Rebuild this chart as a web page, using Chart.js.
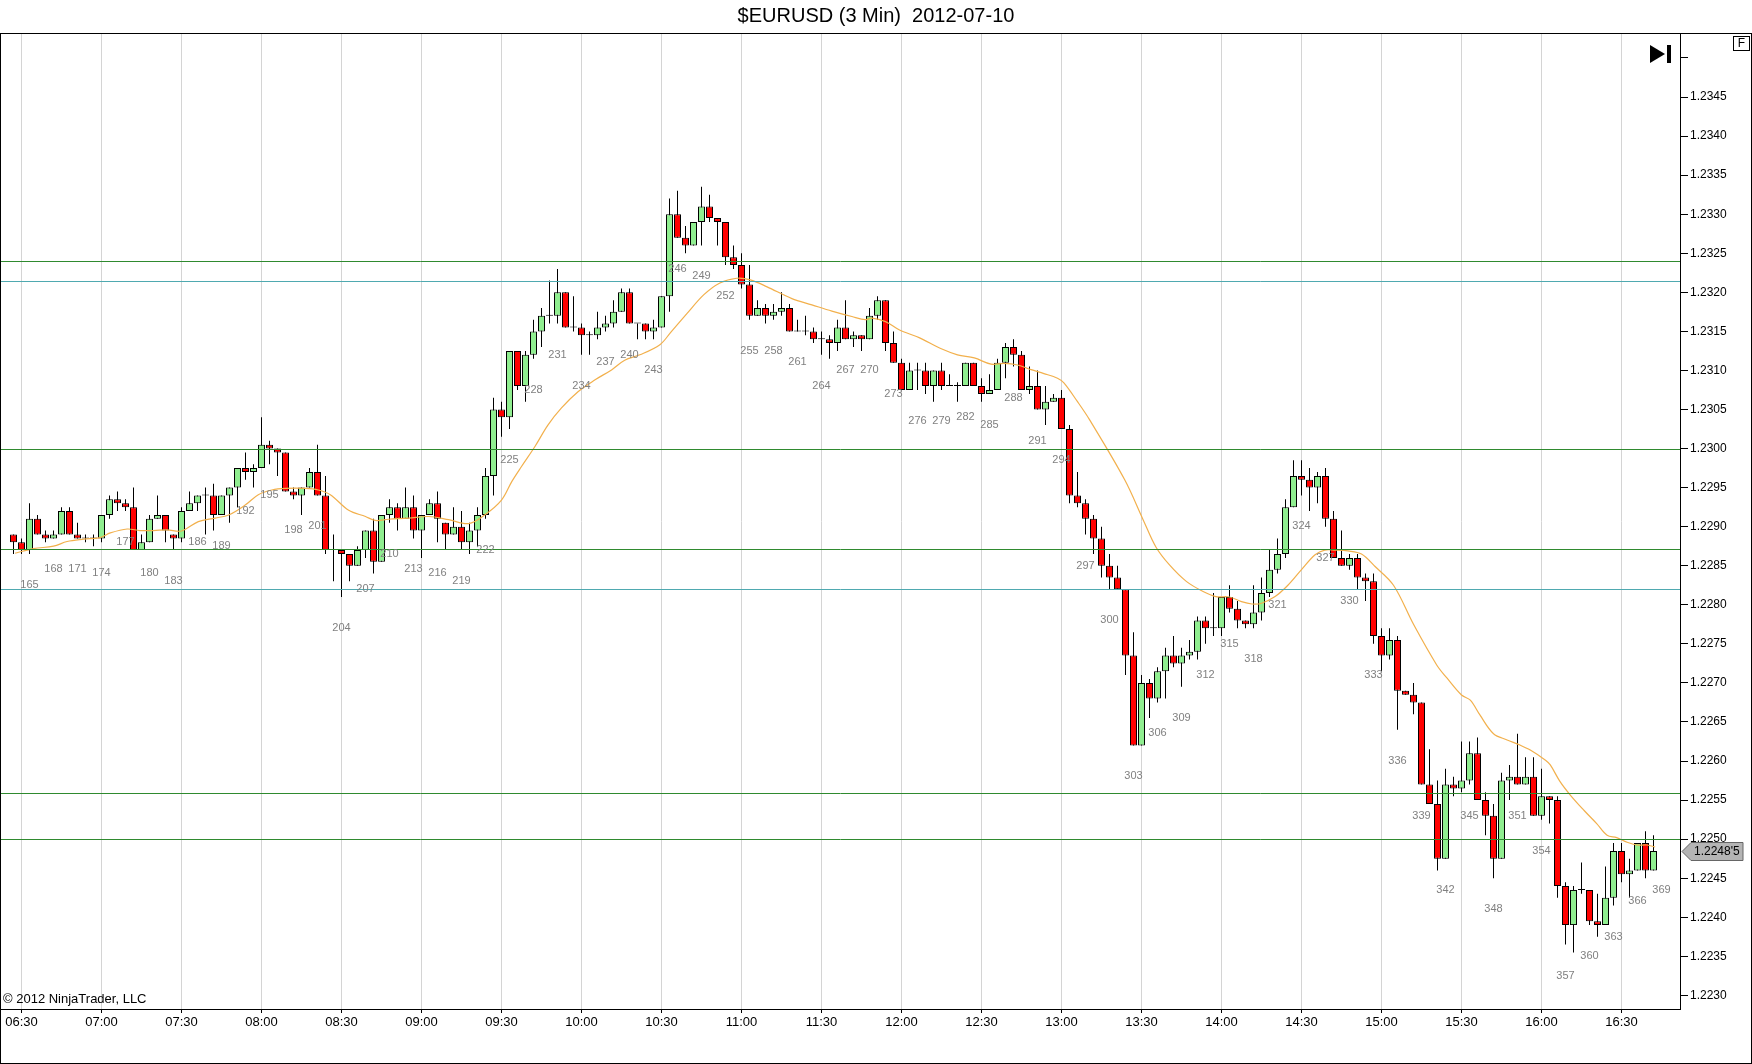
<!DOCTYPE html>
<html><head><meta charset="utf-8">
<script src="https://cdn.jsdelivr.net/npm/chart.js@4.4.1/dist/chart.umd.min.js"></script>
<style>html,body{margin:0;padding:0;background:#fff;}#wrap{width:1752px;height:1064px;}</style>
</head><body><div id="wrap"><canvas id="c" width="1752" height="1064"></canvas></div>
<script>
const title = '$EURUSD (3 Min)  2012-07-10';
const copyright = '\u00A9 2012 NinjaTrader, LLC';

const bars = [163,164,165,166,167,168,169,170,171,172,173,174,175,176,177,178,179,180,181,182,183,184,185,186,187,188,189,190,191,192,193,194,195,196,197,198,199,200,201,202,203,204,205,206,207,208,209,210,211,212,213,214,215,216,217,218,219,220,221,222,223,224,225,226,227,228,229,230,231,232,233,234,235,236,237,238,239,240,241,242,243,244,245,246,247,248,249,250,251,252,253,254,255,256,257,258,259,260,261,262,263,264,265,266,267,268,269,270,271,272,273,274,275,276,277,278,279,280,281,282,283,284,285,286,287,288,289,290,291,292,293,294,295,296,297,298,299,300,301,302,303,304,305,306,307,308,309,310,311,312,313,314,315,316,317,318,319,320,321,322,323,324,325,326,327,328,329,330,331,332,333,334,335,336,337,338,339,340,341,342,343,344,345,346,347,348,349,350,351,352,353,354,355,356,357,358,359,360,361,362,363,364,365,366,367,368];

const opens = [
1.22890,1.22880,1.22870,1.22910,1.22890,1.22885,1.22890,1.22920,1.22890,1.22885,
1.22885,1.22885,1.22915,1.22935,1.22930,1.22925,1.22870,1.22880,1.22910,1.22915,
1.22890,1.22885,1.22920,1.22930,1.22940,1.22940,1.22915,1.22940,1.22950,1.22975,
1.22970,1.22975,1.23005,1.23000,1.22995,1.22945,1.22940,1.22950,1.22970,1.22940,
1.22870,1.22870,1.22865,1.22850,1.22870,1.22895,1.22855,1.22915,1.22925,1.22910,
1.22925,1.22895,1.22915,1.22930,1.22905,1.22890,1.22900,1.22880,1.22895,1.22915,
1.22965,1.23050,1.23040,1.23125,1.23080,1.23120,1.23150,1.23170,1.23170,1.23200,
1.23155,1.23155,1.23145,1.23145,1.23155,1.23160,1.23175,1.23200,1.23160,1.23160,
1.23150,1.23155,1.23195,1.23300,1.23270,1.23260,1.23290,1.23310,1.23295,1.23290,
1.23245,1.23235,1.23210,1.23170,1.23180,1.23170,1.23175,1.23180,1.23150,1.23150,
1.23150,1.23140,1.23140,1.23135,1.23155,1.23140,1.23145,1.23140,1.23170,1.23190,
1.23135,1.23110,1.23075,1.23100,1.23100,1.23080,1.23100,1.23080,1.23080,1.23080,
1.23110,1.23080,1.23070,1.23075,1.23110,1.23130,1.23120,1.23075,1.23080,1.23050,
1.23060,1.23065,1.23025,1.22940,1.22930,1.22910,1.22885,1.22850,1.22835,1.22820,
1.22735,1.22620,1.22700,1.22680,1.22715,1.22735,1.22725,1.22735,1.22740,1.22780,
1.22770,1.22770,1.22810,1.22795,1.22780,1.22775,1.22790,1.22815,1.22845,1.22865,
1.22925,1.22965,1.22960,1.22950,1.22965,1.22910,1.22860,1.22850,1.22860,1.22835,
1.22830,1.22760,1.22735,1.22755,1.22690,1.22685,1.22675,1.22570,1.22545,1.22475,
1.22570,1.22565,1.22575,1.22610,1.22550,1.22530,1.22475,1.22575,1.22580,1.22570,
1.22580,1.22530,1.22555,1.22550,1.22440,1.22390,1.22435,1.22435,1.22395,1.22390,
1.22425,1.22485,1.22455,1.22460,1.22495,1.22460];

const highs = [
1.22890,1.22885,1.22930,1.22915,1.22895,1.22895,1.22925,1.22925,1.22905,1.22890,
1.22890,1.22915,1.22940,1.22945,1.22935,1.22950,1.22890,1.22915,1.22940,1.22915,
1.22890,1.22925,1.22945,1.22940,1.22950,1.22955,1.22940,1.22950,1.22975,1.22995,
1.22980,1.23040,1.23010,1.23000,1.22995,1.22950,1.22950,1.22975,1.23005,1.22965,
1.22890,1.22870,1.22865,1.22875,1.22895,1.22910,1.22915,1.22935,1.22930,1.22950,
1.22940,1.22915,1.22935,1.22945,1.22905,1.22925,1.22920,1.22905,1.22925,1.22975,
1.23065,1.23060,1.23125,1.23125,1.23125,1.23165,1.23180,1.23215,1.23230,1.23200,
1.23195,1.23160,1.23150,1.23175,1.23170,1.23190,1.23205,1.23205,1.23160,1.23160,
1.23165,1.23195,1.23320,1.23330,1.23285,1.23290,1.23335,1.23325,1.23295,1.23290,
1.23260,1.23250,1.23235,1.23190,1.23185,1.23185,1.23200,1.23185,1.23165,1.23170,
1.23155,1.23150,1.23145,1.23165,1.23190,1.23150,1.23145,1.23180,1.23195,1.23190,
1.23150,1.23115,1.23110,1.23110,1.23110,1.23100,1.23110,1.23095,1.23085,1.23110,
1.23110,1.23090,1.23095,1.23115,1.23135,1.23140,1.23125,1.23105,1.23100,1.23080,
1.23070,1.23075,1.23030,1.22970,1.22935,1.22915,1.22900,1.22865,1.22850,1.22820,
1.22765,1.22710,1.22705,1.22720,1.22745,1.22760,1.22745,1.22755,1.22785,1.22785,
1.22815,1.22810,1.22825,1.22805,1.22780,1.22825,1.22835,1.22870,1.22885,1.22935,
1.22985,1.22985,1.22975,1.22970,1.22975,1.22920,1.22895,1.22865,1.22865,1.22840,
1.22840,1.22770,1.22770,1.22760,1.22690,1.22700,1.22675,1.22615,1.22575,1.22590,
1.22580,1.22625,1.22625,1.22630,1.22560,1.22545,1.22585,1.22595,1.22635,1.22605,
1.22605,1.22590,1.22555,1.22555,1.22445,1.22440,1.22470,1.22435,1.22430,1.22465,
1.22495,1.22495,1.22475,1.22495,1.22510,1.22505];

const lows = [
1.22865,1.22865,1.22865,1.22890,1.22880,1.22885,1.22890,1.22890,1.22885,1.22880,
1.22875,1.22880,1.22910,1.22920,1.22920,1.22870,1.22870,1.22880,1.22910,1.22880,
1.22870,1.22880,1.22920,1.22920,1.22890,1.22895,1.22915,1.22905,1.22925,1.22960,
1.22950,1.22975,1.22980,1.22965,1.22945,1.22935,1.22915,1.22950,1.22940,1.22865,
1.22830,1.22810,1.22830,1.22850,1.22860,1.22840,1.22855,1.22905,1.22895,1.22910,
1.22885,1.22860,1.22915,1.22880,1.22870,1.22890,1.22870,1.22865,1.22875,1.22910,
1.22940,1.23015,1.23025,1.23075,1.23060,1.23115,1.23130,1.23160,1.23160,1.23155,
1.23150,1.23120,1.23120,1.23140,1.23150,1.23155,1.23175,1.23160,1.23140,1.23140,
1.23140,1.23155,1.23175,1.23270,1.23250,1.23260,1.23260,1.23290,1.23260,1.23235,
1.23230,1.23205,1.23165,1.23170,1.23160,1.23165,1.23170,1.23150,1.23150,1.23145,
1.23135,1.23120,1.23115,1.23125,1.23140,1.23130,1.23125,1.23140,1.23165,1.23125,
1.23110,1.23075,1.23075,1.23075,1.23070,1.23060,1.23075,1.23080,1.23060,1.23080,
1.23080,1.23060,1.23070,1.23075,1.23090,1.23105,1.23075,1.23070,1.23050,1.23030,
1.23060,1.23025,1.22930,1.22925,1.22890,1.22865,1.22835,1.22820,1.22820,1.22710,
1.22620,1.22620,1.22655,1.22675,1.22680,1.22720,1.22695,1.22730,1.22730,1.22750,
1.22760,1.22760,1.22790,1.22770,1.22770,1.22770,1.22780,1.22810,1.22840,1.22860,
1.22925,1.22940,1.22920,1.22930,1.22900,1.22860,1.22850,1.22845,1.22820,1.22805,
1.22750,1.22715,1.22730,1.22640,1.22685,1.22660,1.22570,1.22545,1.22460,1.22475,
1.22555,1.22560,1.22570,1.22550,1.22505,1.22450,1.22475,1.22550,1.22570,1.22570,
1.22530,1.22525,1.22520,1.22425,1.22365,1.22355,1.22430,1.22390,1.22375,1.22390,
1.22415,1.22445,1.22425,1.22460,1.22450,1.22460];

const closes = [
1.22880,1.22870,1.22910,1.22890,1.22885,1.22890,1.22920,1.22890,1.22885,1.22885,
1.22885,1.22915,1.22935,1.22930,1.22925,1.22870,1.22880,1.22910,1.22915,1.22895,
1.22885,1.22920,1.22930,1.22940,1.22940,1.22915,1.22940,1.22950,1.22975,1.22970,
1.22975,1.23005,1.23000,1.22995,1.22945,1.22940,1.22950,1.22970,1.22940,1.22870,
1.22870,1.22865,1.22850,1.22870,1.22895,1.22855,1.22915,1.22925,1.22910,1.22925,
1.22895,1.22915,1.22930,1.22910,1.22890,1.22900,1.22880,1.22895,1.22915,1.22965,
1.23050,1.23040,1.23125,1.23080,1.23120,1.23150,1.23170,1.23170,1.23200,1.23155,
1.23155,1.23145,1.23145,1.23155,1.23160,1.23175,1.23200,1.23160,1.23160,1.23150,
1.23155,1.23195,1.23300,1.23270,1.23260,1.23290,1.23310,1.23295,1.23290,1.23245,
1.23235,1.23210,1.23170,1.23180,1.23170,1.23175,1.23180,1.23150,1.23150,1.23150,
1.23140,1.23140,1.23135,1.23155,1.23140,1.23145,1.23140,1.23170,1.23190,1.23135,
1.23110,1.23075,1.23100,1.23100,1.23080,1.23100,1.23080,1.23080,1.23080,1.23110,
1.23080,1.23070,1.23075,1.23110,1.23130,1.23120,1.23075,1.23080,1.23050,1.23060,
1.23065,1.23025,1.22940,1.22930,1.22910,1.22885,1.22850,1.22835,1.22820,1.22735,
1.22620,1.22700,1.22680,1.22715,1.22735,1.22725,1.22735,1.22740,1.22780,1.22770,
1.22770,1.22810,1.22795,1.22780,1.22775,1.22790,1.22815,1.22845,1.22865,1.22925,
1.22965,1.22960,1.22950,1.22965,1.22910,1.22860,1.22850,1.22860,1.22835,1.22830,
1.22760,1.22735,1.22755,1.22690,1.22685,1.22675,1.22570,1.22545,1.22475,1.22570,
1.22565,1.22575,1.22610,1.22550,1.22530,1.22475,1.22575,1.22580,1.22570,1.22580,
1.22530,1.22555,1.22550,1.22440,1.22390,1.22435,1.22435,1.22395,1.22390,1.22425,
1.22485,1.22455,1.22460,1.22495,1.22460,1.22485];

const maBars = [163.2,165.5,168.0,169.7,171.8,173.8,175.1,177.2,178.8,180.5,182.2,184.0,186.1,188.2,189.9,192.0,193.6,195.3,197.0,199.5,201.1,202.6,204.9,207.0,208.2,209.9,212.4,214.9,217.4,219.9,221.9,224.0,225.3,226.5,228.2,229.8,231.5,233.6,235.7,237.8,239.4,241.3,243.8,245.1,247.2,249.3,251.3,253.4,255.1,257.2,260.3,262.8,265.3,267.8,269.5,270.3,272.0,273.7,276.2,278.9,281.0,283.1,285.2,286.8,288.5,290.2,291.8,293.5,294.3,296.0,297.5,301.9,304.2,305.8,307.5,309.6,311.7,313.3,315.0,316.5,317.8,319.0,320.7,322.3,324.0,325.7,326.9,328.2,329.8,331.5,333.2,335.5,338.0,340.9,342.2,344.0,345.1,346.3,348.0,349.7,351.3,352.6,354.5,355.1,356.3,357.6,359.3,360.9,362.2,363.4,364.7,365.9,367.2,368.2];
const maValues = [1.22866,1.22872,1.22875,1.22881,1.22884,1.22886,1.22892,1.22897,1.22895,1.22895,1.22896,1.228945,1.229065,1.22911,1.22915,1.22928,1.22941,1.22947,1.22949,1.22949,1.22947,1.22941,1.22921,1.22913,1.22908,1.229095,1.22911,1.22913,1.22909,1.22904,1.22915,1.22934,1.22958,1.22977,1.23003,1.23030,1.23052,1.23073,1.23088,1.23101,1.23113,1.23120,1.23133,1.23148,1.23173,1.23197,1.23212,1.23218,1.23216,1.23207,1.23192,1.23184,1.23176,1.23169,1.23165,1.23167,1.231625,1.23152,1.23142,1.23128,1.23120,1.23116,1.23108,1.23109,1.23107,1.23101,1.23096,1.23090,1.23084,1.23060,1.23037,1.22960,1.22909,1.22874,1.22851,1.22830,1.22817,1.228105,1.22810,1.22804,1.22801,1.22802,1.228105,1.22825,1.22845,1.22864,1.22870,1.22870,1.22869,1.22865,1.22849,1.22825,1.22775,1.22723,1.22706,1.226845,1.22678,1.22659,1.22635,1.22627,1.226205,1.22614,1.22601,1.22595,1.22574,1.225565,1.22537,1.22520,1.22505,1.22502,1.22496,1.224925,1.224925,1.22490];

const labelBars = [165,168,171,174,177,180,183,186,189,192,195,198,201,204,207,210,213,216,219,222,225,228,231,234,237,240,243,246,249,252,255,258,261,264,267,270,273,276,279,282,285,288,291,294,297,300,303,306,309,312,315,318,321,324,327,330,333,336,339,342,345,348,351,354,357,360,363,366,369];

const greenLevels = [1.2324, 1.2300, 1.22872, 1.22559, 1.2250];
const tealLevels = [1.23215, 1.2282];

const timeTickBars = [164,174,184,194,204,214,224,234,244,254,264,274,284,294,304,314,324,334,344,354,364];
const timeLabels = ['06:30','07:00','07:30','08:00','08:30','09:00','09:30','10:00','10:30','11:00','11:30','12:00','12:30','13:00','13:30','14:00','14:30','15:00','15:30','16:00','16:30'];
const priceTickValues = [1.2230,1.2235,1.2240,1.2245,1.2250,1.2255,1.2260,1.2265,1.2270,1.2275,1.2280,1.2285,1.2290,1.2295,1.2300,1.2305,1.2310,1.2315,1.2320,1.2325,1.2330,1.2335,1.2340,1.2345,1.2350];
const priceTickLabels = ['1.2230','1.2235','1.2240','1.2245','1.2250','1.2255','1.2260','1.2265','1.2270','1.2275','1.2280','1.2285','1.2290','1.2295','1.2300','1.2305','1.2310','1.2315','1.2320','1.2325','1.2330','1.2335','1.2340','1.2345',''];

const FONT = '"Liberation Sans", Arial, sans-serif';
const UP = '#90ee90', DOWN = '#ff0000';
Chart.defaults.font.family = FONT;
Chart.defaults.font.size = 12;
Chart.defaults.color = '#000';

const wickData = bars.map((b, i) => ({x: b, y: [lows[i], highs[i]]}));
const bodyData = bars.map((b, i) => ({x: b, y: [opens[i], closes[i]]}));
const bodyColors = bars.map((b, i) => closes[i] > opens[i] ? UP : (closes[i] < opens[i] ? DOWN : '#000'));
const maData = maBars.map((b, i) => ({x: b, y: maValues[i]}));

const overlay = {
  id: 'overlay',
  beforeDraw(chart) {
    const c = chart.ctx;
    c.save(); c.fillStyle = '#fff'; c.fillRect(0, 0, chart.width, chart.height); c.restore();
  },
  afterDatasetsDraw(chart) {
    const {ctx, chartArea: a, scales: {x, y}} = chart;
    ctx.save();
    ctx.lineWidth = 1;
    const level = (v, col) => {
      const py = Math.round(y.getPixelForValue(v)) + 0.5;
      ctx.strokeStyle = col; ctx.beginPath(); ctx.moveTo(a.left, py); ctx.lineTo(a.right, py); ctx.stroke();
    };
    greenLevels.forEach(v => level(v, '#2f8a2f'));
    tealLevels.forEach(v => level(v, '#4fa9b0'));
    ctx.fillStyle = '#808080';
    ctx.font = '11px ' + FONT;
    ctx.textAlign = 'center'; ctx.textBaseline = 'middle';
    labelBars.forEach(n => {
      const i = bars.indexOf(n);
      const anchor = i >= 0 ? lows[i] : closes[closes.length - 1] - 0.00010;
      ctx.fillText(String(n), x.getPixelForValue(n), y.getPixelForValue(anchor) + 31);
    });
    ctx.restore();
  },
  afterDraw(chart) {
    const {ctx, chartArea: a, scales: {y}} = chart;
    ctx.save();
    ctx.fillStyle = '#000';
    ctx.font = '20px ' + FONT;
    ctx.textAlign = 'center'; ctx.textBaseline = 'middle';
    ctx.fillText(title, chart.width / 2, 16);
    ctx.font = '13px ' + FONT;
    ctx.textAlign = 'left';
    ctx.fillText(copyright, 3, a.bottom - 10);
    ctx.strokeStyle = '#000'; ctx.lineWidth = 1;
    ctx.strokeRect(0.5, a.top - 0.5, chart.width - 1, chart.height - a.top);
    ctx.beginPath();
    ctx.moveTo(a.right - 30, a.top + 11); ctx.lineTo(a.right - 30, a.top + 29); ctx.lineTo(a.right - 15, a.top + 20); ctx.closePath();
    ctx.fill();
    ctx.fillRect(a.right - 13, a.top + 11, 4, 18);
    ctx.fillStyle = '#fff';
    ctx.fillRect(chart.width - 18.5, a.top + 2.5, 16, 14);
    ctx.strokeRect(chart.width - 18.5, a.top + 2.5, 16, 14);
    ctx.fillStyle = '#000';
    ctx.font = '12px ' + FONT; ctx.textAlign = 'center';
    ctx.fillText('F', chart.width - 10.5, a.top + 10);
    const last = closes[closes.length - 1];
    const s = last.toFixed(5);
    const tag = s.slice(0, 6) + "'" + s.slice(6);
    const py = Math.round(y.getPixelForValue(last)) + 0.5;
    const x0 = a.right + 2;
    ctx.beginPath();
    ctx.moveTo(x0, py); ctx.lineTo(x0 + 9, py - 9); ctx.lineTo(x0 + 61, py - 9);
    ctx.lineTo(x0 + 61, py + 9); ctx.lineTo(x0 + 9, py + 9); ctx.closePath();
    ctx.fillStyle = '#b4b4b4'; ctx.fill();
    ctx.strokeStyle = '#666'; ctx.stroke();
    ctx.fillStyle = '#000'; ctx.textAlign = 'left'; ctx.font = '12px ' + FONT;
    ctx.fillText(tag, x0 + 12, py);
    ctx.restore();
  }
};

new Chart(document.getElementById('c').getContext('2d'), {
  type: 'bar',
  data: {
    datasets: [
      {type: 'line', data: maData, borderColor: '#f2b04c', borderWidth: 1.2, pointRadius: 0, tension: 0.35, order: 0},
      {type: 'bar', data: bodyData, backgroundColor: bodyColors, borderColor: '#000', borderWidth: 1, borderSkipped: false,
       barThickness: 7, minBarLength: 1, grouped: false, inflateAmount: 0, order: 1},
      {type: 'bar', data: wickData, backgroundColor: '#000', borderWidth: 0, barThickness: 1, grouped: false, inflateAmount: 0, order: 2}
    ]
  },
  options: {
    responsive: false,
    animation: false,
    devicePixelRatio: 1,
    layout: {padding: {left: 1, top: 34, right: 0, bottom: 0}},
    plugins: {legend: {display: false}, tooltip: {enabled: false}, title: {display: false}},
    scales: {
      x: {
        type: 'linear', min: 161.4375, max: 371.3125, offset: false,
        afterBuildTicks: s => { s.ticks = timeTickBars.map(v => ({value: v})); },
        afterFit: s => { s.height = 55; },
        ticks: {autoSkip: false, maxRotation: 0, padding: 2, font: {size: 13}, callback: (v, i) => timeLabels[i]},
        grid: {offset: false, color: '#d4d4d4', drawOnChartArea: true, drawTicks: true, tickLength: 4, tickColor: '#000'},
        border: {display: true, color: '#000'}
      },
      y: {
        type: 'linear', position: 'right', min: 1.2228259, max: 1.2353067,
        afterBuildTicks: s => { s.ticks = priceTickValues.map(v => ({value: v})); },
        afterFit: s => { s.width = 72; },
        ticks: {autoSkip: false, padding: 2, callback: (v, i) => priceTickLabels[i]},
        grid: {drawOnChartArea: false, drawTicks: true, tickLength: 8, tickColor: '#000'},
        border: {display: true, color: '#000'}
      }
    }
  },
  plugins: [overlay]
});
</script>
</body></html>
